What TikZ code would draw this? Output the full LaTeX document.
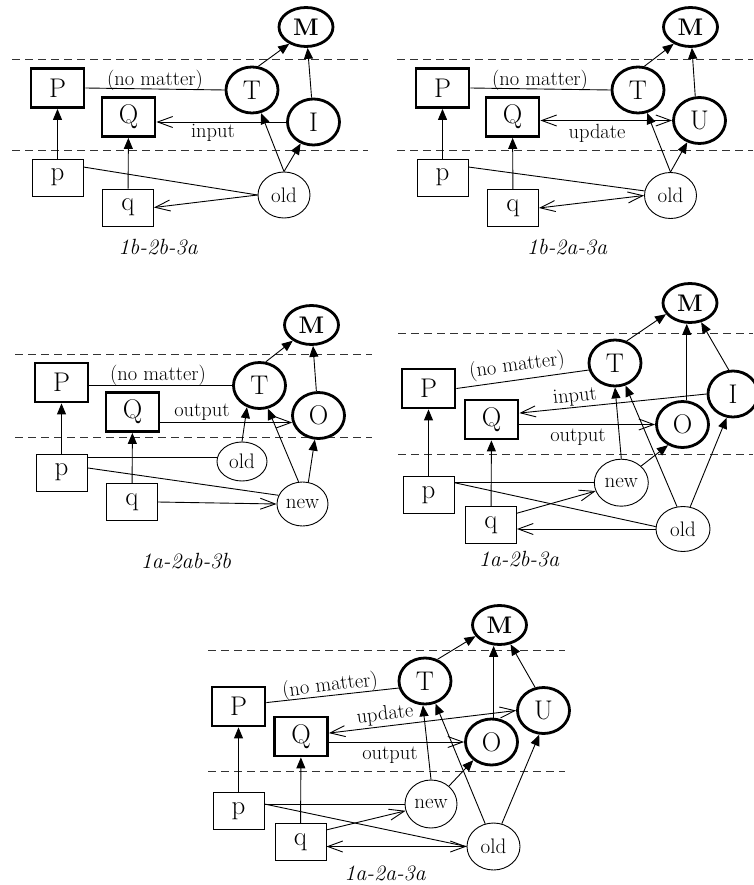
\documentclass[tikz,border=0pt]{standalone}
\usepackage{fontspec}
\usetikzlibrary{shapes.geometric,arrows.meta}
\tikzset{
 thickbox/.style={draw, line width=2.8pt, minimum width=53pt, minimum height=39pt, inner sep=0pt, font=\fontsize{27}{27}\selectfont},
 thinbox/.style={draw, line width=0.9pt, minimum width=51pt, minimum height=37pt, inner sep=0pt, font=\fontsize{27}{27}\selectfont},
 thickcirc/.style={draw, ellipse, line width=2.8pt, minimum width=52pt, minimum height=46pt, inner sep=0pt, font=\fontsize{27}{27}\selectfont},
 mcirc/.style={thickcirc, minimum width=54pt, minimum height=39pt, font=\fontsize{24}{24}\selectfont\bfseries},
 thincirc/.style={draw, ellipse, line width=0.9pt, minimum width=52pt, minimum height=46pt, inner sep=0pt, font=\fontsize{21}{21}\selectfont},
 fa/.style={line width=0.9pt, -{Triangle[length=11pt,width=9pt]}},
 oa/.style={line width=0.9pt, -{Straight Barb[length=15pt,width=11pt]}},
 da/.style={line width=0.9pt, {Straight Barb[length=15pt,width=11pt]}-{Straight Barb[length=15pt,width=11pt]}},
 ln/.style={line width=0.9pt},
 sepline/.style={line width=0.9pt, black!80, dash pattern=on 8pt off 5pt},
 lbl/.style={font=\fontsize{20.5}{20.5}\selectfont, inner sep=1pt},
 capt/.style={font=\fontsize{22}{22}\selectfont\itshape, inner sep=1pt},
}
\begin{document}
\begin{tikzpicture}[x=1pt,y=-1pt]
\useasboundingbox (0,0) rectangle (753,885);

% ---------------- Panel 1: 1b-2b-3a
\draw[sepline] (12,59) -- (368,59);
\draw[sepline] (12,150) -- (368,150);
\node[thickbox] (P1) at (57.5,88) {P};
\node[thickbox] (Q1) at (128.5,117) {Q};
\node[thinbox] (p1) at (57.5,177.5) {p};
\node[thinbox] (q1) at (128,207.5) {q};
\node[thickcirc] (T1) at (252,90) {T};
\node[mcirc] (M1) at (306,27) {M};
\node[thickcirc] (I1) at (313.5,122) {I};
\node[thincirc] (old1) at (284,195) {old};
\node[lbl] (l1a) at (155,80) {(no matter)};
\node[lbl] (l1b) at (213,133) {input};
\node[capt] (c1) at (158,247) {1b-2b-3a};
\draw[fa] (p1) -- (P1);
\draw[fa] (q1) -- (Q1);
\draw[ln] (P1.east) -- (T1.west);
\draw[oa] (I1.west) -- (Q1.east |- I1.west);
\draw[fa] (T1.75) -- (M1.225);
\draw[fa] (I1) -- (M1);
\draw[fa] (old1.north) -- (T1);
\draw[fa] (old1.north) -- (I1);
\draw[ln] (p1.22) -- (old1.west);
\draw[oa] (old1.west) -- (q1.east);

% ---------------- Panel 2: 1b-2a-3a
\draw[sepline] (397,59) -- (753,59);
\draw[sepline] (397,150) -- (753,150);
\node[thickbox] (P2) at (442.5,88) {P};
\node[thickbox] (Q2) at (512.5,117) {Q};
\node[thinbox] (p2) at (442.5,177.5) {p};
\node[thinbox] (q2) at (513,208) {q};
\node[thickcirc] (T2) at (638,90) {T};
\node[mcirc] (M2) at (690.5,27) {M};
\node[thickcirc] (U2) at (699.5,120.5) {U};
\node[thincirc] (old2) at (670.5,195.5) {old};
\node[lbl] (l2a) at (540,80) {(no matter)};
\node[lbl] (l2b) at (597,133) {update};
\node[capt] (c2) at (567,247) {1b-2a-3a};
\draw[fa] (p2) -- (P2);
\draw[fa] (q2) -- (Q2);
\draw[ln] (P2.east) -- (T2.west);
\draw[da] (Q2.east |- U2.west) -- (U2.west);
\draw[fa] (T2.75) -- (M2.225);
\draw[fa] (U2.100) -- (M2);
\draw[fa] (old2.north) -- (T2);
\draw[fa] (old2.north) -- (U2);
\draw[ln] (p2.22) -- (old2.170);
\draw[da] (q2.east) -- (old2.west);

% ---------------- Panel 3: 1a-2ab-3b
\draw[sepline] (15,354) -- (372,354);
\draw[sepline] (15,437) -- (372,437);
\node[thickbox] (P3) at (61.5,382.5) {P};
\node[thickbox] (Q3) at (132.5,412) {Q};
\node[thinbox] (p3) at (61.5,472.5) {p};
\node[thinbox] (q3) at (132,502) {q};
\node[thickcirc] (T3) at (259.5,385.5) {T};
\node[mcirc] (M3) at (311.5,325) {M};
\node[thickcirc] (O3) at (318.5,415.5) {O};
\node[thincirc, minimum width=50pt, minimum height=39pt] (old3) at (242,461.5) {old};
\node[thincirc, minimum width=51pt, minimum height=44pt] (new3) at (302.5,504) {new};
\node[lbl] (l3a) at (158,375) {(no matter)};
\node[lbl] (l3b) at (202,412) {output};
\node[capt] (c3) at (186,561) {1a-2ab-3b};
\draw[fa] (p3) -- (P3);
\draw[fa] (q3) -- (Q3);
\draw[ln] (P3.east |- T3.west) -- (T3.west);
\draw[oa] (Q3.east |- O3.195) -- (O3.195);
\draw[ln] (old3.170) -- (p3.east |- old3.170);
\draw[ln] (p3.10) -- (new3.160);
\draw[oa] (q3.east) -- (new3.west);
\draw[fa] (old3.north) -- (T3.240);
\draw[fa] (new3.100) -- (T3.290);
\draw[fa] (new3.75) -- (O3);
\draw[fa] (T3.75) -- (M3.220);
\draw[fa] (O3.95) -- (M3);

% ---------------- Panel 4: 1a-2b-3a
\draw[sepline] (398,333) -- (753,333);
\draw[sepline] (398,454) -- (753,454);
\node[thickbox] (P4) at (428.5,388.5) {P};
\node[thickbox] (Q4) at (491.5,419.5) {Q};
\node[thinbox] (p4) at (428.5,495) {p};
\node[thinbox] (q4) at (491,525.3) {q};
\node[thickcirc] (T4) at (615,363) {T};
\node[mcirc] (M4) at (690,303) {M};
\node[thickcirc] (O4) at (682.5,424.5) {O};
\node[thickcirc, minimum width=50pt] (I4) at (733,394) {I};
\node[thincirc, minimum width=54pt, minimum height=47pt] (new4) at (621.3,482.7) {new};
\node[thincirc, minimum width=54pt, minimum height=45pt] (old4) at (683,529) {old};
\node[lbl, rotate=7.5] (l4a) at (517,366) {(no matter)};
\node[lbl, rotate=6] (l4b) at (575,397) {input};
\node[lbl] (l4c) at (578,437) {output};
\node[capt] (c4) at (519,559) {1a-2b-3a};
\draw[fa] (p4) -- (P4);
\draw[fa] (q4) -- (Q4);
\draw[ln] (P4.east) -- (T4.195);
\draw[oa] (I4.west) -- (Q4.13);
\draw[oa] (Q4.east |- O4.west) -- (O4.west);
\draw[ln] (p4.east |- new4.west) -- (new4.west);
\draw[ln] (p4.east |- new4.west) -- (old4.175);
\draw[oa] (q4.25) -- (new4.198);
\draw[oa] (old4.west) -- (q4.east |- old4.west);
\draw[fa] (new4.north) -- (T4.south);
\draw[fa] (new4.40) -- (O4.235);
\draw[fa] (old4.105) -- (T4.295);
\draw[fa] (old4.72) -- (I4.255);
\draw[fa] (T4.62) -- (M4.205);
\draw[fa] (O4.80) -- (O4.80 |- M4.south);
\draw[fa] (I4.100) -- (M4);

% ---------------- Panel 5: 1a-2a-3a
\draw[sepline] (208,650) -- (565,650);
\draw[sepline] (208,771) -- (565,771);
\node[thickbox] (P5) at (238.5,706.5) {P};
\node[thickbox] (Q5) at (301,736.5) {Q};
\node[thinbox] (p5) at (238.5,811) {p};
\node[thinbox] (q5) at (300.5,842) {q};
\node[thickcirc] (T5) at (425,681) {T};
\node[mcirc] (M5) at (499.5,625) {M};
\node[thickcirc] (O5) at (491.5,742) {O};
\node[thickcirc] (U5) at (543.5,710.5) {U};
\node[thincirc, minimum width=52pt, minimum height=48pt] (new5) at (431,804) {new};
\node[thincirc, minimum width=53pt, minimum height=47pt] (old5) at (493.5,846.5) {old};
\node[lbl, rotate=7] (l5a) at (330,686) {(no matter)};
\node[lbl, rotate=6.5] (l5b) at (385,715) {update};
\node[lbl] (l5c) at (390,755) {output};
\node[capt] (c5) at (385,873) {1a-2a-3a};
\draw[fa] (p5) -- (P5);
\draw[fa] (q5) -- (Q5);
\draw[ln] (P5.8) -- (T5.195);
\draw[da] (U5.west) -- (Q5.7);
\draw[oa] (Q5.east |- O5.west) -- (O5.west);
\draw[ln] (p5.east |- new5.west) -- (new5.west);
\draw[ln] (p5.east |- new5.west) -- (old5.west);
\draw[oa] (q5.25) -- (new5.195);
\draw[da] (q5.east |- old5.west) -- (old5.west);
\draw[fa] (new5.north) -- (T5.265);
\draw[fa] (new5.45) -- (O5.225);
\draw[fa] (old5.110) -- (T5.295);
\draw[fa] (old5.70) -- (U5.260);
\draw[fa] (T5.60) -- (M5.205);
\draw[fa] (O5.85) -- (O5.85 |- M5.south);
\draw[fa] (U5.110) -- (M5);
\end{tikzpicture}
\end{document}
